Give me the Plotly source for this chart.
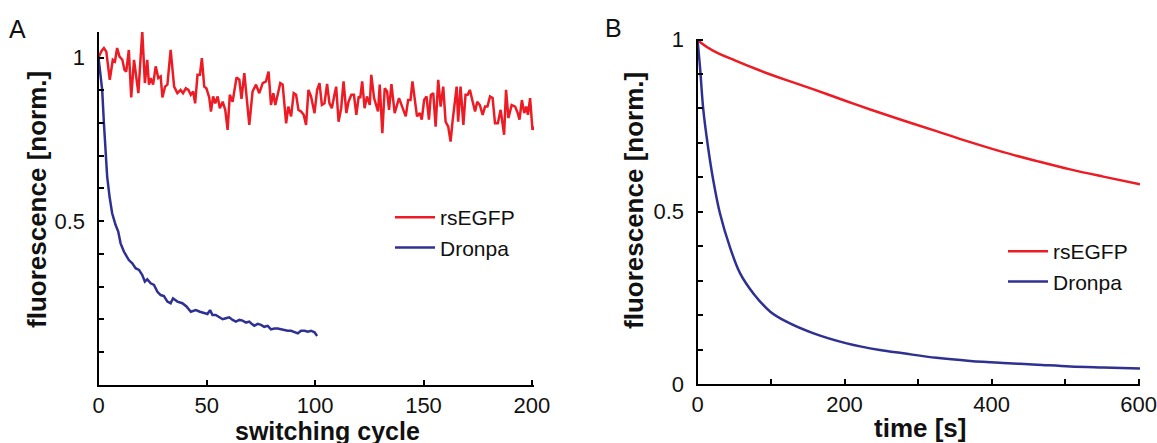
import plotly.graph_objects as go

# ---------------- Panel A: switching cycles ----------------
rsegfp_cycles = [
    (0, 1.0), (1.4, 1.020), (2.5, 1.029), (3.6, 1.018), (5.2, 0.932), (6.6, 0.993), (7.6, 0.988),
    (8.6, 1.029), (9.7, 1.003), (11, 0.993), (12, 0.962), (12.8, 0.957), (14, 1.023), (15.1, 0.878),
    (16.4, 0.993), (18.4, 0.891), (20.2, 1.080), (21.4, 0.922), (22.5, 0.993), (23.3, 0.917),
    (24.1, 0.937), (25.2, 0.917), (26.4, 0.973), (27.6, 0.937), (28.7, 0.942), (29.5, 0.878),
    (30.7, 0.911), (31.8, 0.917), (33.3, 1.023), (34.9, 0.911), (36.4, 0.891), (37.9, 0.901),
    (39, 0.891), (40.3, 0.906), (41.5, 0.901), (42.6, 0.886), (43.7, 0.896), (44.6, 0.860),
    (45.7, 0.947), (46.8, 0.947), (47.7, 0.998), (48.8, 0.911), (49.8, 0.906), (51.1, 0.878),
    (51.9, 0.835), (52.9, 0.881), (53.9, 0.860), (55, 0.881), (56, 0.845), (57.3, 0.865),
    (58.5, 0.840), (59.6, 0.779), (60.6, 0.886), (61.9, 0.865), (63.7, 0.939), (65, 0.932),
    (66, 0.874), (67.3, 0.952), (69.6, 0.794), (71.1, 0.896), (72.7, 0.917), (74.2, 0.891),
    (75.8, 0.922), (77.3, 0.927), (78.5, 0.957), (79.6, 0.855), (80.7, 0.891), (81.6, 0.855),
    (82.7, 0.886), (83.9, 0.922), (85, 0.917), (86.6, 0.799), (87.6, 0.850), (88.9, 0.820),
    (90.1, 0.891), (91.2, 0.886), (92.3, 0.840), (93.5, 0.835), (94.7, 0.825), (95.8, 0.794),
    (96.9, 0.901), (98.1, 0.881), (99.7, 0.830), (100.9, 0.901), (102, 0.922), (103.1, 0.855),
    (104.3, 0.860), (105.5, 0.919), (106.6, 0.860), (107.7, 0.845), (108.9, 0.886), (109.7, 0.911),
    (110.8, 0.804), (112, 0.845), (113.1, 0.927), (114.4, 0.830), (115.4, 0.865), (116.7, 0.886),
    (117.9, 0.886), (119, 0.825), (120.1, 0.881), (120.8, 0.876), (121.7, 0.927), (122.8, 0.845),
    (123.9, 0.881), (125.2, 0.855), (125.9, 0.947), (127.2, 0.876), (129, 0.835), (129.8, 0.917),
    (131, 0.769), (132.1, 0.906), (133.2, 0.896), (134.1, 0.840), (135.2, 0.919), (136.7, 0.830),
    (138.7, 0.876), (140.3, 0.850), (141.8, 0.820), (142.9, 0.870), (144, 0.870), (144.9, 0.927),
    (146, 0.870), (147, 0.820), (148.3, 0.830), (149.2, 0.810), (150.3, 0.870), (151.4, 0.881),
    (152.5, 0.810), (153.4, 0.886), (154.5, 0.891), (155.6, 0.789), (156.8, 0.932), (157.9, 0.850),
    (159.1, 0.911), (160.2, 0.804), (161.4, 0.789), (162.5, 0.743), (163.4, 0.804), (164.5, 0.876),
    (165.3, 0.911), (166, 0.804), (167.1, 0.911), (168.4, 0.794), (169.4, 0.886), (170.4, 0.886),
    (171.4, 0.901), (172.7, 0.865), (173.8, 0.835), (174.8, 0.865), (176, 0.855), (177.3, 0.825),
    (178.4, 0.850), (179.5, 0.850), (180.7, 0.881), (181.9, 0.876), (183, 0.799), (184.3, 0.799),
    (185.6, 0.840), (187.2, 0.764), (188.1, 0.901), (189.2, 0.815), (190.7, 0.855), (192.3, 0.850),
    (193.5, 0.830), (194.3, 0.810), (195.4, 0.870), (196.5, 0.830), (197.4, 0.850), (198.2, 0.825),
    (199.2, 0.876), (200.3, 0.779), (201.0, 0.789),
]

dronpa_cycles = [
    (0, 1.0), (1.7, 0.901), (2.5, 0.799), (3.2, 0.718), (4.0, 0.636), (5.1, 0.575), (6.3, 0.524),
    (7.9, 0.488), (9.1, 0.468), (10.2, 0.432), (11.7, 0.407), (14.0, 0.381), (15.6, 0.371),
    (17.1, 0.356), (18.7, 0.351), (20.2, 0.335), (21.4, 0.315), (22.5, 0.322), (24.1, 0.310),
    (25.6, 0.305), (27.2, 0.284), (28.7, 0.274), (30.2, 0.271), (31.8, 0.254), (33.3, 0.249),
    (34.4, 0.264), (36.4, 0.254), (38.7, 0.249), (40.6, 0.239), (42.6, 0.223), (44.9, 0.228),
    (46.8, 0.223), (48.8, 0.218), (50.3, 0.216), (51.5, 0.228), (52.6, 0.213), (54.1, 0.213),
    (55.7, 0.206), (57.3, 0.200), (58.8, 0.203), (60.3, 0.206), (61.9, 0.198), (63.4, 0.193),
    (65, 0.198), (66.5, 0.196), (68.1, 0.190), (69.6, 0.193), (70.7, 0.186), (71.9, 0.180),
    (73.5, 0.186), (75, 0.183), (76.5, 0.177), (78.1, 0.180), (79.6, 0.169), (81.2, 0.172),
    (82.7, 0.172), (84.3, 0.169), (85.8, 0.167), (87.3, 0.165), (88.9, 0.165), (90.4, 0.162),
    (92, 0.157), (93.5, 0.165), (95.1, 0.165), (96.6, 0.162), (98.1, 0.165), (99.7, 0.160),
    (100.9, 0.149),
]

# ---------------- Panel B: time ----------------
rsegfp_time_s = [0, 5, 21, 50, 85, 120, 157, 200, 235, 280, 325, 371, 416, 462, 507, 552, 602]
rsegfp_time_val = [1.0, 0.99, 0.968, 0.94, 0.910, 0.883, 0.856, 0.823, 0.797, 0.765, 0.734,
                   0.702, 0.673, 0.647, 0.623, 0.602, 0.580]

dronpa_time_s = [0, 3.4, 8, 15, 21.5, 30.6, 44, 58, 76, 99, 121, 158, 203, 248, 280, 325,
                 371, 416, 462, 507, 552, 602]
dronpa_time_val = [1.0, 0.92, 0.794, 0.678, 0.591, 0.495, 0.398, 0.321, 0.263, 0.210, 0.181,
                   0.147, 0.118, 0.0986, 0.089, 0.076, 0.067, 0.061, 0.056, 0.051, 0.048, 0.045]

# tick labels
a_x_ticks = [0, 50, 100, 150, 200]
a_y_ticks = [0.1, 0.2, 0.3, 0.4, 0.5, 0.6, 0.7, 0.8, 0.9, 1.0]
a_y_text = ["", "", "", "", "0.5", "", "", "", "", "1"]
b_x_ticks = [0, 100, 200, 300, 400, 500, 600]
b_x_text = ["0", "", "200", "", "400", "", "600"]
b_y_ticks = [0, 0.1, 0.2, 0.3, 0.4, 0.5, 0.6, 0.7, 0.8, 0.9, 1.0]
b_y_text = ["0", "", "", "", "", "0.5", "", "", "", "", "1"]

RED = "#ED1C24"
BLUE = "#2E3192"
W, H = 1157, 443
FONT = "Liberation Sans, Arial, sans-serif"

fig = go.Figure()
fig.add_trace(go.Scatter(x=[p[0] for p in rsegfp_cycles], y=[p[1] for p in rsegfp_cycles],
                         mode="lines", name="rsEGFP", line=dict(color=RED, width=2.5),
                         xaxis="x", yaxis="y", legend="legend"))
fig.add_trace(go.Scatter(x=[p[0] for p in dronpa_cycles], y=[p[1] for p in dronpa_cycles],
                         mode="lines", name="Dronpa", line=dict(color=BLUE, width=2.5),
                         xaxis="x", yaxis="y", legend="legend"))
fig.add_trace(go.Scatter(x=rsegfp_time_s, y=rsegfp_time_val, mode="lines", name="rsEGFP",
                         line=dict(color=RED, width=2.5, shape="spline"),
                         xaxis="x2", yaxis="y2", legend="legend2"))
fig.add_trace(go.Scatter(x=dronpa_time_s, y=dronpa_time_val, mode="lines", name="Dronpa",
                         line=dict(color=BLUE, width=2.5, shape="spline"),
                         xaxis="x2", yaxis="y2", legend="legend2"))

def px_x(p):
    return p / W

def px_y(p):
    return (H - p) / H

axis_common = dict(showline=True, linecolor="black", linewidth=2, ticks="inside",
                   ticklen=5, tickwidth=1.5, tickcolor="black", showgrid=False,
                   zeroline=False, automargin=False,
                   tickfont=dict(family=FONT, size=22, color="#111"),
                   fixedrange=True)

fig.update_layout(
    template="none",
    width=W, height=H, margin=dict(l=0, r=0, t=0, b=0, autoexpand=False),
    paper_bgcolor="white", plot_bgcolor="white",
    xaxis=dict(domain=[px_x(98.5), px_x(534)], range=[0, 201], tickmode="array",
               tickvals=a_x_ticks, ticktext=[str(v) for v in a_x_ticks], anchor="y",
               **axis_common),
    yaxis=dict(domain=[px_y(384.7), px_y(32)], range=[0, 1.078], tickmode="array",
               tickvals=a_y_ticks, ticktext=a_y_text, anchor="x", ticklabelstandoff=7,
               **axis_common),
    xaxis2=dict(domain=[px_x(697.5), px_x(1140)], range=[0, 602], tickmode="array",
                tickvals=b_x_ticks, ticktext=b_x_text, anchor="y2", **axis_common),
    yaxis2=dict(domain=[px_y(384), px_y(38.5)], range=[0, 1.003], tickmode="array",
                tickvals=b_y_ticks, ticktext=b_y_text, anchor="x2", ticklabelstandoff=7,
                **axis_common),
    legend=dict(x=px_x(390), y=px_y(197), xanchor="left", yanchor="top", itemwidth=40,
                bgcolor="rgba(0,0,0,0)", borderwidth=0,
                font=dict(family=FONT, size=21, color="#111")),
    legend2=dict(x=px_x(1003), y=px_y(231), xanchor="left", yanchor="top", itemwidth=40,
                 bgcolor="rgba(0,0,0,0)", borderwidth=0,
                 font=dict(family=FONT, size=21, color="#111")),
    showlegend=True,
)

title_font = dict(family=FONT, size=26, color="#111")
ann = [
    dict(text="<b>fluorescence [norm.]</b>", x=px_x(37), y=px_y(200), textangle=-90, size=26),
    dict(text="<b>fluorescence [norm.]</b>", x=px_x(634), y=px_y(201), textangle=-90, size=26),
    dict(text="<b>switching cycle</b>", x=px_x(327), y=px_y(431), size=25),
    dict(text="<b>time [s]</b>", x=px_x(920), y=px_y(428), size=26),
]
for a in ann:
    sz = a.pop("size")
    fig.add_annotation(xref="paper", yref="paper", showarrow=False, xanchor="center",
                       yanchor="middle", font=dict(family=FONT, size=sz, color="#111"), **a)
fig.add_annotation(text="A", xref="paper", yref="paper", x=px_x(17), y=px_y(29),
                   showarrow=False, xanchor="center", yanchor="middle",
                   font=dict(family=FONT, size=25, color="#111"))
fig.add_annotation(text="B", xref="paper", yref="paper", x=px_x(613), y=px_y(28),
                   showarrow=False, xanchor="center", yanchor="middle",
                   font=dict(family=FONT, size=25, color="#111"))

fig.write_html("out.html")
